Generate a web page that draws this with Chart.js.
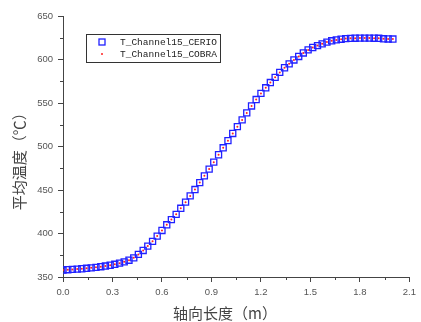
<!DOCTYPE html>
<html>
<head>
<meta charset="utf-8">
<script src="https://cdn.jsdelivr.net/npm/chart.js@4/dist/chart.umd.min.js"></script>
<style>
  html, body { margin: 0; padding: 0; background: #fff; }
</style>
</head>
<body>
<canvas id="myCanvas" width="421" height="322"></canvas>
<script>
// axial positions (m)
const axialLength = [
  0.000, 0.029, 0.057, 0.086, 0.114, 0.143, 0.171, 0.200, 0.229, 0.257,
  0.286, 0.314, 0.343, 0.371, 0.400, 0.429, 0.457, 0.486, 0.514, 0.543,
  0.571, 0.600, 0.629, 0.657, 0.686, 0.714, 0.743, 0.771, 0.800, 0.829,
  0.857, 0.886, 0.914, 0.943, 0.971, 1.000, 1.029, 1.057, 1.086, 1.114,
  1.143, 1.171, 1.200, 1.229, 1.257, 1.286, 1.314, 1.343, 1.371, 1.400,
  1.429, 1.457, 1.486, 1.514, 1.543, 1.571, 1.600, 1.629, 1.657, 1.686,
  1.714, 1.743, 1.771, 1.800, 1.829, 1.857, 1.886, 1.914, 1.943, 1.971,
  2.000
];

const tempCerio = [
  358.0, 358.4, 358.7, 359.1, 359.5, 360.0, 360.5, 361.1, 361.8, 362.6,
  363.5, 364.6, 365.9, 367.4, 369.3, 372.0, 376.0, 380.5, 385.5, 391.0,
  397.0, 403.5, 410.0, 416.0, 422.0, 429.0, 436.0, 443.2, 450.5, 458.5,
  466.3, 474.0, 482.0, 490.5, 498.5, 506.7, 515.0, 522.8, 530.6, 538.6,
  546.6, 554.0, 561.0, 567.5, 573.5, 579.5, 585.2, 590.5, 595.0, 599.5,
  603.5, 607.5, 611.0, 613.8, 616.0, 618.0, 620.0, 621.5, 622.5, 623.3,
  624.0, 624.3, 624.5, 624.6, 624.6, 624.6, 624.5, 624.4, 623.8, 623.6,
  623.5
];

const tempCobra = [
  358.0, 358.4, 358.7, 359.1, 359.5, 360.0, 360.5, 361.1, 361.8, 362.6,
  363.5, 364.6, 365.9, 367.4, 369.3, 372.0, 376.0, 380.5, 385.5, 391.0,
  397.0, 403.5, 410.0, 416.0, 422.0, 429.0, 436.0, 443.2, 450.5, 458.5,
  466.3, 474.0, 482.0, 490.5, 498.5, 506.7, 515.0, 522.8, 530.6, 538.6,
  546.6, 554.0, 561.0, 567.5, 573.5, 579.5, 585.2, 590.5, 595.0, 599.5,
  603.5, 607.5, 611.0, 613.8, 616.0, 618.0, 620.0, 621.5, 622.5, 623.3,
  624.0, 624.3, 624.5, 624.6, 624.6, 624.6, 624.5, 624.4, 623.8, 623.6,
  623.5
];

const seriesNames = ["T_Channel15_CERIO", "T_Channel15_COBRA"];
const xTicks = [0, 0.3, 0.6, 0.9, 1.2, 1.5, 1.8, 2.1];
const yTicks = [350, 400, 450, 500, 550, 600, 650];

const axisColor = "#444";

// small ticks half way between the labelled ones
const minorTicks = {
  id: "minorTicks",
  afterDraw(chart) {
    const {ctx, scales: {x, y}} = chart;
    ctx.save();
    ctx.strokeStyle = axisColor;
    ctx.lineWidth = 1;
    for (let i = 0; i < xTicks.length - 1; i++) {
      const px = Math.round(x.getPixelForValue((xTicks[i] + xTicks[i + 1]) / 2)) + 0.5;
      ctx.beginPath();
      ctx.moveTo(px, x.top);
      ctx.lineTo(px, x.top + 3);
      ctx.stroke();
    }
    for (let i = 0; i < yTicks.length - 1; i++) {
      const py = Math.round(y.getPixelForValue((yTicks[i] + yTicks[i + 1]) / 2)) + 0.5;
      ctx.beginPath();
      ctx.moveTo(y.right - 3, py);
      ctx.lineTo(y.right, py);
      ctx.stroke();
    }
    ctx.restore();
  }
};

// boxed legend inside the plot
const legendBox = {
  id: "legendBox",
  afterDatasetsDraw(chart) {
    const ctx = chart.ctx;
    ctx.save();
    ctx.fillStyle = "#fff";
    ctx.fillRect(86, 34, 135, 28);
    ctx.strokeStyle = "#333";
    ctx.lineWidth = 1;
    ctx.strokeRect(86.5, 34.5, 134, 28);

    // CERIO symbol
    ctx.strokeStyle = "#2020ff";
    ctx.lineWidth = 1.3;
    ctx.strokeRect(99, 39, 6, 6);
    // COBRA symbol
    ctx.fillStyle = "#ff2020";
    ctx.beginPath();
    ctx.arc(102, 54, 1, 0, Math.PI * 2);
    ctx.fill();

    ctx.fillStyle = "#222";
    ctx.font = "9.5px 'Liberation Mono'";
    ctx.textBaseline = "middle";
    ctx.fillText(seriesNames[0], 120, 42);
    ctx.fillText(seriesNames[1], 120, 54);
    ctx.restore();
  }
};

const toPoints = (xs, ys) => xs.map((v, i) => ({x: v, y: ys[i]}));

new Chart(document.getElementById("myCanvas").getContext("2d"), {
  type: "scatter",
  data: {
    datasets: [
      {
        label: seriesNames[0],
        data: toPoints(axialLength, tempCerio),
        pointStyle: "rect",
        pointRadius: 4.3,
        borderColor: "#2020ff",
        backgroundColor: "rgba(255,255,255,0)",
        borderWidth: 1.3,
        order: 2
      },
      {
        label: seriesNames[1],
        data: toPoints(axialLength, tempCobra),
        pointStyle: "circle",
        pointRadius: 1,
        borderWidth: 0,
        backgroundColor: "#ff2020",
        order: 1
      }
    ]
  },
  options: {
    responsive: false,
    animation: false,
    layout: {padding: {top: 16, right: 0, left: 0, bottom: 0}},
    plugins: {legend: {display: false}, tooltip: {enabled: false}},
    scales: {
      x: {
        type: "linear",
        min: 0,
        max: 2.1,
        afterBuildTicks: s => { s.ticks = xTicks.map(v => ({value: v})); },
        afterFit: s => { s.height = 45; },
        border: {color: axisColor, width: 1},
        grid: {drawOnChartArea: false, drawTicks: true, tickLength: 5, tickColor: axisColor},
        ticks: {
          color: "#555",
          font: {family: "'Liberation Sans'", size: 9.5},
          padding: 5,
          maxRotation: 0,
          callback: v => Number(v).toFixed(1)
        },
        title: {
          display: true,
          text: "轴向长度（m）　　",
          color: "#444",
          font: {family: "'Noto Sans CJK SC'", size: 15},
          padding: {top: 0, bottom: 0}
        }
      },
      y: {
        type: "linear",
        min: 350,
        max: 650,
        afterBuildTicks: s => { s.ticks = yTicks.map(v => ({value: v})); },
        afterFit: s => { s.width = 63; },
        border: {color: axisColor, width: 1},
        grid: {drawOnChartArea: false, drawTicks: true, tickLength: 5, tickColor: axisColor},
        ticks: {
          color: "#555",
          font: {family: "'Liberation Sans'", size: 9.5},
          padding: 5
        },
        title: {
          display: true,
          text: "平均温度（℃）　　",
          color: "#444",
          font: {family: "'Noto Sans CJK SC'", size: 15},
          padding: {top: 10, bottom: 0}
        }
      }
    }
  },
  plugins: [minorTicks, legendBox]
});
</script>
</body>
</html>
